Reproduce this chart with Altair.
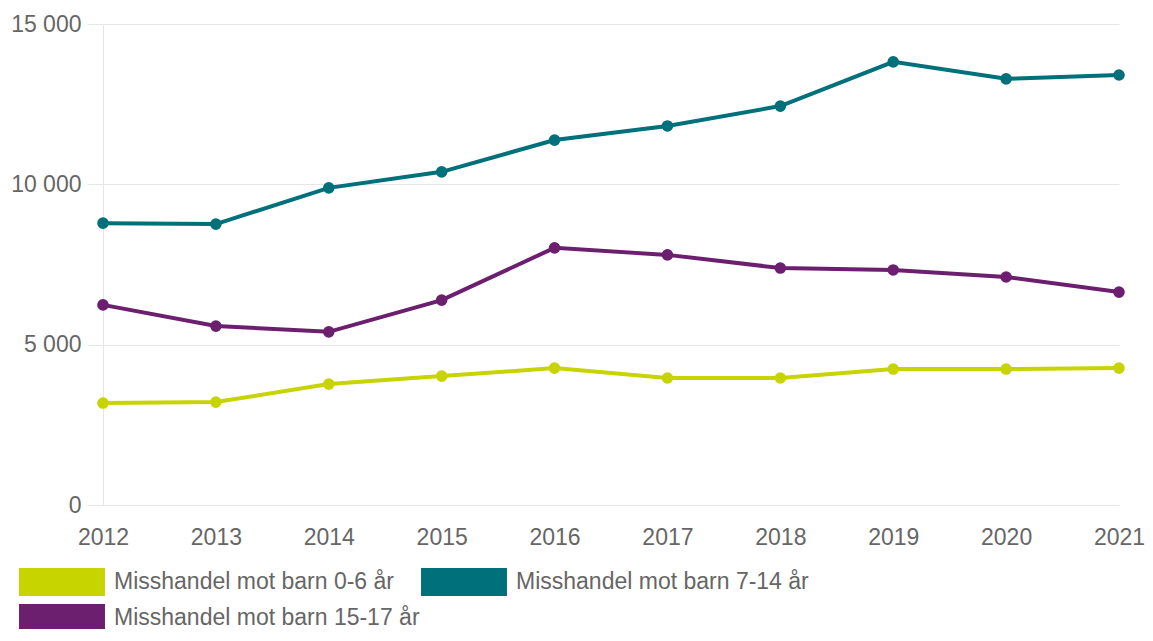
import altair as alt
import pandas as pd

years = [2012, 2013, 2014, 2015, 2016, 2017, 2018, 2019, 2020, 2021]
series_names = ["Misshandel mot barn 0-6 år", "Misshandel mot barn 7-14 år", "Misshandel mot barn 15-17 år"]
colors = ["#c8d400", "#00707a", "#6b1f6e"]
v_0_6 = [3180, 3210, 3770, 4020, 4270, 3960, 3960, 4240, 4240, 4270]
v_7_14 = [8790, 8760, 9890, 10390, 11380, 11820, 12440, 13820, 13290, 13410]
v_15_17 = [6240, 5580, 5400, 6390, 8020, 7800, 7390, 7330, 7110, 6640]

rows = []
for name, vals in zip(series_names, [v_0_6, v_7_14, v_15_17]):
    for y, v in zip(years, vals):
        rows.append({"year": str(y), "value": v, "serie": name})
df = pd.DataFrame(rows)

font = "Liberation Sans"

chart = alt.Chart(df).mark_line(
    strokeWidth=4,
    point=alt.OverlayMarkDef(filled=True, size=135, opacity=1),
).encode(
    x=alt.X("year:O", title=None, scale=alt.Scale(type="point", padding=0),
            axis=alt.Axis(labelAngle=0, ticks=False, domain=False, labelPadding=21,
                          labelFontSize=23, labelColor="#666666", labelFont=font)),
    y=alt.Y("value:Q", title=None, scale=alt.Scale(domain=[0, 15000]),
            axis=alt.Axis(values=[0, 5000, 10000, 15000], tickSize=16, tickColor="#e6e6e6",
                          labelPadding=6, labelFontSize=23, labelColor="#666666", labelFont=font,
                          gridColor="#e6e6e6", domainColor="#e6e6e6",
                          labelExpr="replace(format(datum.value, ','), ',', ' ')")),
    color=alt.Color("serie:N", scale=alt.Scale(domain=series_names, range=colors),
                    legend=alt.Legend(title=None, orient="none", legendX=-55, legendY=544,
                                      direction="horizontal", columns=2, gridAlign="none",
                                      symbolType="M-3.07,-1H3.07V1H-3.07Z", symbolSize=784,
                                      symbolStrokeWidth=0, symbolOpacity=1,
                                      labelFontSize=23, labelColor="#666666", labelFont=font,
                                      labelOffset=38, columnPadding=1, rowPadding=8,
                                      labelLimit=400)),
).properties(
    width=1016, height=481,
    autosize=alt.AutoSizeParams(type="none"),
    padding={"left": 95, "top": 16, "right": 26, "bottom": 124},
).configure_view(stroke=None)

chart.save("out.html", embed_options={"renderer": "svg", "actions": False})
